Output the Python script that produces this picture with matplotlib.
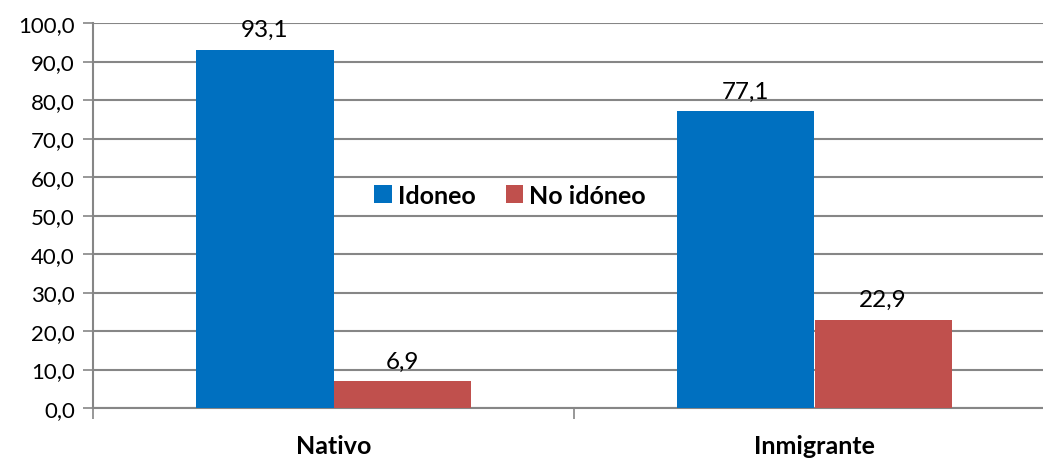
import matplotlib.pyplot as plt
from matplotlib.ticker import FuncFormatter

plt.rcParams['font.family'] = ['Lato', 'DejaVu Sans']

categories = ['Nativo', 'Inmigrante']
series_names = ['Idoneo', 'No idóneo']
idoneo = [93.1, 77.1]
no_idoneo = [6.9, 22.9]
colors = ['#0070C0', '#C0504D']

fig = plt.figure(figsize=(10.43, 4.6), dpi=100)
ax = fig.add_axes([93 / 1043, 51 / 460, 962 / 1043, 385 / 460])

w = 0.285
x = range(len(categories))
b1 = ax.bar([i - w / 2 for i in x], idoneo, w, color=colors[0], label=series_names[0], zorder=3)
b2 = ax.bar([i + w / 2 for i in x], no_idoneo, w, color=colors[1], label=series_names[1], zorder=3)

for bars in (b1, b2):
    for rect in bars:
        h = rect.get_height()
        ax.annotate(f'{h:.1f}'.replace('.', ','), xy=(rect.get_x() + rect.get_width() / 2, h),
                    xytext=(0, 7), textcoords='offset points', ha='center', va='bottom',
                    fontsize=17.5, zorder=4)

ax.set_xlim(-0.5, 1.5)
ax.set_ylim(0, 100)
ax.set_yticks(range(0, 101, 10))
ax.yaxis.set_major_formatter(FuncFormatter(lambda v, p: f'{v:.1f}'.replace('.', ',')))
ax.grid(axis='y', color='#868686', linewidth=1.5, zorder=0)

ax.set_xticks([0, 1])
ax.set_xticklabels(categories, fontsize=18, fontweight='bold')
ax.set_xticks([-0.5, 0.5, 1.5], minor=True)
ax.tick_params(axis='x', which='major', length=0, pad=19)
ax.tick_params(axis='x', which='minor', length=8, color='#868686', width=1.2)
ax.tick_params(axis='y', length=7, color='#868686', width=1.2, labelsize=16, pad=6)

for s in ['top', 'right']:
    ax.spines[s].set_visible(False)
ax.spines['left'].set_color('#868686')
ax.spines['left'].set_linewidth(1.5)
ax.spines['bottom'].set_color('#868686')
ax.spines['bottom'].set_linewidth(1.5)

leg = ax.legend(loc='center', bbox_to_anchor=(417 / 962, 0.553), ncol=2, frameon=True,
                fancybox=False, edgecolor='white', framealpha=1, handlelength=0.7,
                handleheight=0.7, handletextpad=0.25, columnspacing=1.2,
                prop={'size': 18, 'weight': 'bold'}, borderpad=0.1)
leg.set_zorder(5)

fig.savefig('out.png', dpi=100)
